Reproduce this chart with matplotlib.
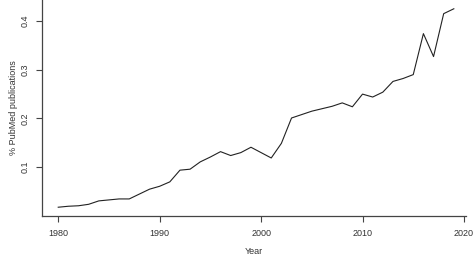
import matplotlib
matplotlib.use("Agg")
import matplotlib.pyplot as plt

years = list(range(1980, 2020))
pct = [0.018, 0.020, 0.021, 0.024, 0.031, 0.033, 0.035, 0.035, 0.045, 0.055,
       0.061, 0.070, 0.094, 0.096, 0.111, 0.121, 0.132, 0.124, 0.130, 0.141,
       0.130, 0.119, 0.149, 0.201, 0.208, 0.215, 0.220, 0.225, 0.232, 0.224,
       0.250, 0.244, 0.254, 0.276, 0.282, 0.290, 0.374, 0.327, 0.415, 0.425]
x_ticks = [1980, 1990, 2000, 2010, 2020]
y_ticks = [0.1, 0.2, 0.3, 0.4]

plt.rcParams['font.family'] = ['Liberation Sans', 'DejaVu Sans']

fig = plt.figure(figsize=(4.74, 2.58), dpi=100)
ax = fig.add_axes([42 / 474, 42 / 258, 424 / 474, 216 / 258])

ax.plot(years, pct, color='#222222', lw=0.8)

ax.set_xlim(1978.4, 2020.2)
ax.set_ylim(0.0, 0.443)
ax.set_xticks(x_ticks)
ax.set_yticks(y_ticks)
ax.set_yticklabels([str(v) for v in y_ticks], rotation=90, va='center')

for s in ['top', 'right']:
    ax.spines[s].set_visible(False)
for s in ['left', 'bottom']:
    ax.spines[s].set_color('#444444')
    ax.spines[s].set_linewidth(0.9)

ax.tick_params(axis='both', length=4, width=0.8, color='#444444',
               labelsize=6.5, labelcolor='#333333', pad=5)

ax.set_xlabel('Year', fontsize=6.5, color='#333333', labelpad=7)
ax.set_ylabel('% PubMed publications', fontsize=6.5, color='#333333', labelpad=2)

fig.savefig('out.png', dpi=100)
